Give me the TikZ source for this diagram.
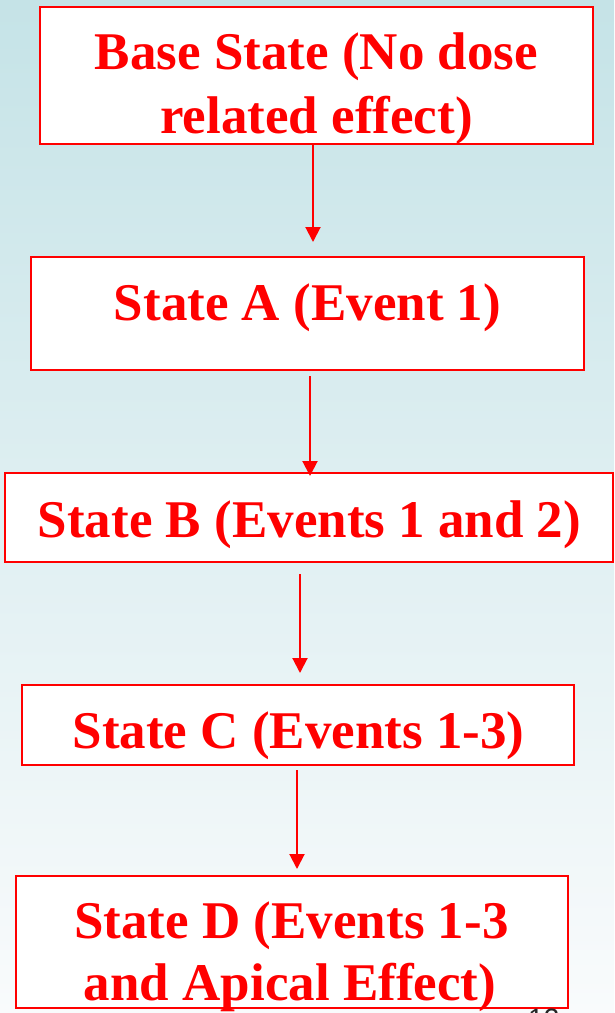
\documentclass[tikz,border=0pt]{standalone}
\usepackage{fontspec}
\setmainfont{Liberation Serif}
\newfontfamily\numfont{Liberation Sans}
\usetikzlibrary{arrows.meta}
\definecolor{sred}{RGB}{255,0,0}
\definecolor{bgtop}{RGB}{197,227,231}
\definecolor{bgmid}{RGB}{225,239,242}
\definecolor{bgbot}{RGB}{249,251,252}
\begin{document}
\begin{tikzpicture}[x=1pt,y=-1pt,
  stbox/.style={draw=sred, line width=2pt, fill=white, outer sep=0pt, inner sep=0pt},
  sttext/.style={text=sred, font=\fontsize{53}{63}\selectfont\bfseries, anchor=base, inner sep=0pt},
  arr/.style={draw=sred, line width=2pt, -{Triangle[width=15pt,length=15pt]}}]
\useasboundingbox (0,0) rectangle (614,1013);
\clip (0,0) rectangle (614,1013);
\shade[top color=bgtop, middle color=bgmid, bottom color=bgbot] (0,0) rectangle (614,1013);
% boxes
\node[stbox, minimum width=553pt, minimum height=137pt] (base) at (316.5,75.5) {};
\node[stbox, minimum width=553pt, minimum height=113pt] (A) at (307.5,313.5) {};
\node[stbox, minimum width=608pt, minimum height=89pt] (B) at (309,517.5) {};
\node[stbox, minimum width=552pt, minimum height=80pt] (C) at (298,725) {};
\node[stbox, minimum width=552pt, minimum height=132pt] (D) at (292,942) {};
% texts
\node[sttext] (t0a) at (316.5,69) {Base State (No dose};
\node[sttext] (t0b) at (316.5,133) {related effect)};
\node[sttext] (tA) at (307.5,320) {State A (Event 1)};
\node[sttext] (tB) at (309.5,537) {State B (Events 1 and 2)};
\node[sttext] (tC) at (298.5,748) {State C (Events 1-3)};
\node[sttext] (tDa) at (291.5,938) {State D (Events 1-3};
\node[sttext] (tDb) at (290,1000) {and Apical Effect)};
% arrows
\draw[arr] ([xshift=-3.5pt]base.south) -- ([xshift=5.5pt,yshift=15pt]A.north);
\draw[arr] ([xshift=2.5pt,yshift=-6pt]A.south) -- ([xshift=1pt,yshift=-3pt]B.north);
\draw[arr] ([xshift=-9pt,yshift=-12pt]B.south) -- ([xshift=2pt,yshift=12pt]C.north);
\draw[arr] ([xshift=-1pt,yshift=-5pt]C.south) -- ([xshift=5pt,yshift=7pt]D.north);
% slide number (cut off)
\node[anchor=north west, inner sep=0pt, text=black!85, font=\numfont\fontsize{28}{28}\selectfont] (num) at (528,1009) {12};
\end{tikzpicture}
\end{document}
